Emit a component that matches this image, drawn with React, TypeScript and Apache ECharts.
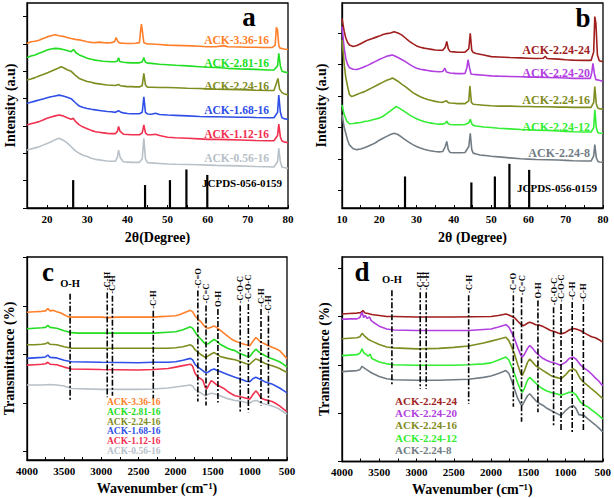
import React, { useEffect, useRef } from 'react';
import * as echarts from 'echarts';

const FONT = "'Liberation Serif', 'Times New Roman', serif";

// ---------- Panel a (XRD, activator ratio series) ----------
const aNames = ['ACK-3.36-16', 'ACK-2.81-16', 'ACK-2.24-16', 'ACK-1.68-16', 'ACK-1.12-16', 'ACK-0.56-16'];
const aColors = ['#FF7F2A', '#22DD22', '#7F8C1F', '#2F4FE8', '#F2304F', '#B8C0C8'];
const aOrange = [[15,6.02],[16,6.08],[17,6.1],[18,6.14],[19,6.2],[20,6.26],[21,6.3],[22,6.34],[23,6.3],[24,6.28],[25,6.24],[26,6.2],[27,6.17],[28,6.15],[29,6.12],[30,6.08],[31,6.06],[32,6.05],[33,6.07],[34,6.05],[35,6.04],[36,6.05],[36.8,6.08],[37.2,6.24],[37.6,6.1],[38,6.04],[39,6.03],[40,6.02],[41,6.02],[42,6.03],[43,6.05],[43.3,6.5],[43.5,6.73],[43.8,6.4],[44.1,6.05],[45,6.0],[46,6.0],[48,5.98],[50,5.96],[52,5.95],[54,5.94],[56,5.93],[58,5.92],[60,5.9],[62,5.9],[64,5.94],[65,5.9],[68,5.89],[70,5.88],[72,5.88],[74,5.87],[76,5.87],[76.8,5.95],[77.1,6.61],[77.4,6.5],[77.7,5.95],[78,5.85],[79,5.82],[80,5.8]];
const aGreen = [[15,5.51],[16,5.56],[17,5.6],[18,5.66],[19,5.72],[20,5.78],[21,5.82],[22,5.84],[23,5.83],[24,5.8],[25,5.76],[26,5.72],[26.6,5.8],[27.2,5.68],[28,5.6],[29,5.54],[30,5.48],[31,5.44],[32,5.41],[33,5.39],[34,5.37],[35,5.36],[36,5.35],[37,5.35],[37.5,5.38],[37.8,5.5],[38.1,5.36],[39,5.33],[40,5.32],[41,5.31],[42,5.31],[43,5.31],[43.7,5.35],[44.1,5.5],[44.5,5.33],[45,5.3],[46,5.29],[48,5.26],[50,5.24],[52,5.22],[55,5.2],[58,5.17],[60,5.15],[62,5.14],[65,5.11],[68,5.09],[70,5.08],[72,5.07],[75,5.05],[76.5,5.05],[77.4,5.2],[77.7,5.66],[78.1,5.2],[78.5,5.0],[79,4.98],[80,4.95]];
const aOlive = [[15,4.68],[16,4.72],[17,4.77],[18,4.83],[19,4.88],[20,4.94],[21,5.0],[22,5.07],[23,5.13],[23.5,5.17],[24,5.14],[25,5.06],[26,5.0],[27,4.86],[28,4.74],[29,4.68],[30,4.63],[31,4.6],[32,4.56],[33,4.54],[34,4.52],[35,4.5],[36,4.49],[37,4.48],[37.8,4.52],[38.3,4.47],[39,4.46],[40,4.44],[41,4.44],[42,4.43],[43,4.43],[43.7,4.48],[44.1,4.93],[44.5,4.5],[45,4.42],[46,4.42],[48,4.41],[50,4.41],[52,4.4],[55,4.38],[58,4.37],[60,4.36],[62,4.35],[65,4.34],[68,4.33],[70,4.32],[72,4.31],[75,4.3],[76.5,4.3],[77.2,4.6],[77.5,4.74],[77.9,4.35],[78.5,4.22],[79,4.18],[80,4.13]];
const aBlue = [[15,3.83],[16,3.87],[17,3.91],[18,3.95],[19,3.99],[20,4.03],[21,4.07],[22,4.1],[23,4.13],[24,4.1],[25,4.05],[26,4.0],[27,3.86],[28,3.73],[29,3.68],[30,3.64],[31,3.61],[32,3.59],[33,3.57],[34,3.55],[35,3.53],[36,3.52],[37,3.5],[37.8,3.56],[38.4,3.5],[39,3.48],[40,3.46],[41,3.45],[42,3.45],[43,3.45],[43.7,3.5],[44.1,4.07],[44.5,3.5],[45,3.44],[46,3.43],[47,3.47],[48,3.42],[50,3.4],[52,3.39],[55,3.37],[58,3.35],[60,3.34],[62,3.34],[65,3.33],[68,3.32],[70,3.32],[72,3.31],[75,3.3],[76.5,3.3],[77.4,3.5],[77.7,4.13],[78.1,3.5],[78.5,3.3],[79,3.27],[80,3.24]];
const aRed = [[15,3.04],[16,3.08],[17,3.12],[18,3.16],[19,3.22],[20,3.28],[21,3.33],[22,3.37],[23,3.4],[24,3.37],[25,3.3],[26,3.25],[26.5,3.28],[27,3.18],[28,3.04],[29,2.96],[30,2.9],[31,2.84],[32,2.79],[33,2.77],[34,2.75],[35,2.73],[36,2.72],[37,2.72],[37.5,2.8],[37.8,2.98],[38.2,2.8],[39,2.7],[40,2.69],[41,2.68],[42,2.68],[43,2.68],[43.7,2.75],[44.1,3.04],[44.5,2.75],[45,2.68],[46,2.68],[47,2.7],[48,2.65],[50,2.59],[52,2.57],[55,2.55],[58,2.53],[60,2.51],[62,2.51],[65,2.5],[68,2.49],[70,2.48],[72,2.47],[75,2.46],[76.5,2.46],[77.4,2.65],[77.7,3.07],[78.1,2.6],[78.5,2.45],[79,2.42],[80,2.39]];
const aGrey = [[15,2.12],[16,2.16],[17,2.2],[18,2.24],[19,2.3],[20,2.36],[21,2.42],[22,2.5],[23,2.55],[24,2.48],[25,2.38],[26,2.24],[27,2.1],[28,2.0],[29,1.93],[30,1.88],[31,1.82],[32,1.78],[33,1.76],[34,1.74],[35,1.72],[36,1.71],[37,1.71],[37.5,1.85],[37.8,2.12],[38.2,1.85],[39,1.69],[40,1.68],[41,1.67],[42,1.67],[43,1.67],[43.7,1.8],[44.1,2.55],[44.5,1.8],[45,1.66],[46,1.65],[48,1.63],[50,1.61],[52,1.6],[55,1.59],[58,1.58],[60,1.57],[62,1.56],[65,1.55],[68,1.54],[70,1.53],[72,1.52],[75,1.51],[76.5,1.5],[77.4,1.7],[77.7,2.18],[78.1,1.7],[78.5,1.5],[79,1.48],[80,1.45]];
const aRefPos = [26.5, 44.4, 50.6, 54.7, 59.9];
const aRefH = [1.02, 0.84, 1.02, 1.41, 1.21];

// ---------- Panel b (XRD, activation time series) ----------
const bNames = ['ACK-2.24-24', 'ACK-2.24-20', 'ACK-2.24-16', 'ACK-2.24-12', 'ACK-2.24-8'];
const bColors = ['#A01E1E', '#B23FE0', '#7F8C1F', '#33EE33', '#727C84'];
const bRed = [[10,5.46],[10.3,5.25],[10.6,5.05],[11,4.85],[11.5,4.7],[12,4.62],[13,4.57],[14,4.6],[15,4.66],[16,4.72],[17,4.78],[18,4.82],[19,4.86],[20,4.9],[21,4.95],[22,4.98],[23,5.0],[24,5.04],[25,5.0],[26,4.94],[27,4.84],[28,4.74],[29,4.66],[30,4.59],[31,4.55],[32,4.52],[33,4.5],[34,4.48],[35,4.46],[36,4.45],[37,4.45],[37.7,4.55],[38.1,4.73],[38.5,4.5],[39,4.41],[40,4.4],[41,4.39],[42,4.39],[43,4.39],[44,4.5],[44.4,4.99],[44.8,4.45],[45.2,4.38],[46,4.35],[48,4.3],[50,4.25],[52,4.24],[55,4.22],[58,4.21],[60,4.2],[62,4.19],[64,4.2],[64.5,4.26],[65,4.19],[68,4.17],[70,4.15],[72,4.14],[75,4.13],[76.8,4.13],[77.5,4.4],[77.8,5.52],[78.1,5.3],[78.5,4.3],[79,4.12],[80,4.09]];
const bPurple = [[10,5.2],[10.3,4.85],[10.6,4.5],[11,4.2],[11.5,4.0],[12,3.9],[13,3.85],[14,3.84],[15,3.88],[16,3.93],[17,3.98],[18,4.04],[19,4.1],[20,4.16],[21,4.21],[22,4.26],[23,4.29],[23.5,4.3],[24,4.28],[25,4.22],[26,4.16],[27,4.09],[28,4.01],[29,3.94],[30,3.88],[31,3.85],[32,3.83],[33,3.81],[34,3.79],[35,3.78],[36,3.77],[37,3.78],[37.6,3.88],[38,3.76],[39,3.73],[40,3.72],[41,3.71],[42,3.71],[43,3.72],[43.5,3.9],[43.8,4.15],[44.2,3.9],[44.6,3.7],[45,3.69],[46,3.68],[48,3.66],[50,3.64],[52,3.63],[55,3.62],[58,3.61],[60,3.6],[62,3.6],[65,3.59],[68,3.58],[70,3.57],[72,3.56],[75,3.56],[76.6,3.56],[77.0,3.75],[77.3,4.04],[77.7,3.7],[78.1,3.52],[79,3.5],[80,3.46]];
const bOlive = [[10,4.78],[10.3,4.4],[10.6,4.0],[11,3.6],[11.5,3.3],[12,3.05],[12.5,2.99],[13,3.0],[14,3.05],[15,3.1],[16,3.14],[17,3.2],[18,3.26],[19,3.32],[20,3.38],[21,3.44],[22,3.5],[23,3.54],[23.5,3.57],[24,3.54],[25,3.47],[26,3.38],[27,3.3],[28,3.2],[29,3.11],[30,3.04],[31,2.98],[32,2.93],[33,2.89],[34,2.86],[35,2.83],[36,2.81],[37,2.8],[38,2.85],[38.5,2.79],[39,2.78],[40,2.77],[41,2.76],[42,2.76],[43,2.76],[44,2.85],[44.3,3.32],[44.7,2.8],[45.2,2.74],[46,2.73],[48,2.71],[50,2.69],[52,2.68],[55,2.68],[58,2.67],[60,2.67],[62,2.66],[65,2.66],[68,2.65],[70,2.65],[72,2.64],[75,2.64],[76.8,2.64],[77.5,2.8],[77.8,3.3],[78.2,2.75],[78.6,2.62],[79,2.6],[80,2.58]];
const bGreen = [[10,2.72],[10.4,2.5],[10.8,2.35],[11.3,2.2],[12,2.12],[13,2.13],[14,2.15],[15,2.16],[16,2.19],[17,2.21],[18,2.24],[19,2.27],[20,2.3],[21,2.36],[22,2.44],[23,2.53],[24,2.62],[24.5,2.67],[25,2.64],[26,2.57],[27,2.49],[28,2.41],[29,2.34],[30,2.28],[31,2.23],[32,2.19],[33,2.16],[34,2.14],[35,2.12],[36,2.11],[37,2.11],[37.7,2.14],[38.1,2.2],[38.5,2.12],[39,2.1],[40,2.09],[41,2.09],[42,2.09],[43,2.1],[44,2.15],[44.4,2.26],[44.8,2.12],[45.2,2.07],[46,2.05],[48,2.02],[50,2.0],[52,1.98],[55,1.96],[58,1.94],[60,1.93],[62,1.92],[65,1.91],[68,1.89],[70,1.88],[72,1.87],[75,1.86],[76.8,1.86],[77.5,2.0],[77.8,2.56],[78.2,2.0],[78.6,1.84],[79,1.83],[80,1.82]];
const bGrey = [[10,2.41],[10.3,2.2],[10.6,2.0],[11,1.82],[11.5,1.6],[12,1.45],[13,1.33],[14,1.3],[15,1.32],[16,1.36],[17,1.41],[18,1.46],[19,1.52],[20,1.6],[21,1.66],[22,1.72],[23,1.78],[24,1.82],[25,1.78],[26,1.7],[27,1.61],[28,1.53],[29,1.46],[30,1.4],[31,1.35],[32,1.31],[33,1.28],[34,1.26],[35,1.24],[36,1.23],[37,1.24],[37.7,1.4],[38.1,1.56],[38.5,1.3],[39,1.21],[40,1.2],[41,1.2],[42,1.2],[43,1.21],[44,1.4],[44.4,1.82],[44.8,1.3],[45.2,1.19],[46,1.16],[47,1.13],[48,1.12],[50,1.09],[52,1.07],[55,1.04],[58,1.01],[60,1.0],[62,0.99],[65,0.98],[68,0.97],[70,0.96],[72,0.95],[75,0.94],[76.8,0.94],[77.5,1.1],[77.8,1.46],[78.2,1.05],[78.6,0.93],[79,0.91],[80,0.9]];
const bRefPos = [26.9, 44.7, 51.0, 54.9, 60.2];
const bRefH = [0.45, 0.26, 0.45, 0.85, 0.66];

// ---------- Panel c (FTIR, activator ratio series) ----------
const cOrange = [[4000,2.87],[3900,2.88],[3800,2.89],[3750,2.9],[3720,2.95],[3690,2.9],[3650,2.91],[3600,2.88],[3550,2.86],[3500,2.82],[3450,2.78],[3400,2.77],[3300,2.77],[3200,2.77],[3100,2.77],[3000,2.77],[2900,2.76],[2800,2.77],[2700,2.77],[2600,2.77],[2500,2.77],[2400,2.77],[2300,2.77],[2200,2.78],[2100,2.79],[2000,2.8],[1950,2.82],[1900,2.85],[1850,2.88],[1800,2.91],[1770,2.88],[1740,2.8],[1700,2.73],[1660,2.68],[1620,2.6],[1590,2.55],[1560,2.54],[1520,2.56],[1480,2.59],[1450,2.56],[1400,2.5],[1350,2.44],[1300,2.38],[1250,2.32],[1200,2.28],[1150,2.25],[1100,2.22],[1050,2.2],[1000,2.18],[960,2.27],[920,2.35],[890,2.31],[850,2.25],[800,2.22],[750,2.18],[700,2.15],[650,2.12],[600,2.08],[550,2.0],[500,1.91]];
const cGreen = [[4000,2.53],[3900,2.54],[3800,2.55],[3750,2.56],[3720,2.6],[3690,2.56],[3600,2.54],[3500,2.49],[3400,2.45],[3300,2.44],[3000,2.44],[2800,2.44],[2500,2.44],[2300,2.44],[2100,2.46],[2000,2.47],[1900,2.51],[1800,2.57],[1770,2.54],[1740,2.47],[1700,2.38],[1660,2.32],[1620,2.25],[1590,2.21],[1560,2.22],[1520,2.27],[1480,2.31],[1440,2.27],[1400,2.21],[1350,2.17],[1300,2.13],[1250,2.1],[1200,2.08],[1150,2.03],[1100,2.0],[1050,1.97],[1000,1.96],[960,2.04],[920,2.11],[890,2.07],[850,2.02],[800,1.98],[750,1.94],[700,1.91],[650,1.88],[600,1.85],[550,1.8],[500,1.74]];
const cOlive = [[4000,2.2],[3900,2.2],[3800,2.21],[3750,2.22],[3720,2.25],[3690,2.21],[3600,2.2],[3500,2.16],[3400,2.13],[3000,2.13],[2500,2.13],[2300,2.13],[2100,2.13],[2000,2.14],[1900,2.16],[1800,2.2],[1770,2.17],[1740,2.1],[1700,2.05],[1660,2.0],[1620,1.96],[1590,1.94],[1560,1.97],[1520,2.01],[1480,2.04],[1440,2.0],[1400,1.96],[1300,1.92],[1200,1.89],[1100,1.84],[1050,1.81],[1000,1.8],[960,1.86],[920,1.91],[890,1.89],[850,1.86],[800,1.82],[750,1.79],[700,1.77],[650,1.74],[600,1.71],[550,1.67],[500,1.63]];
const cBlue = [[4000,1.92],[3900,1.93],[3800,1.94],[3750,1.95],[3720,1.99],[3690,1.94],[3600,1.93],[3500,1.88],[3400,1.85],[3000,1.84],[2500,1.83],[2300,1.84],[2100,1.84],[2000,1.85],[1900,1.88],[1800,1.92],[1770,1.89],[1740,1.8],[1700,1.74],[1660,1.7],[1620,1.65],[1590,1.62],[1560,1.64],[1520,1.68],[1480,1.7],[1440,1.67],[1400,1.65],[1300,1.59],[1200,1.53],[1100,1.48],[1050,1.45],[1000,1.44],[960,1.5],[920,1.53],[890,1.51],[850,1.48],[800,1.44],[750,1.41],[700,1.39],[650,1.35],[600,1.31],[550,1.26],[500,1.21]];
const cRed = [[4000,1.78],[3900,1.79],[3800,1.8],[3750,1.81],[3720,1.84],[3690,1.8],[3600,1.79],[3500,1.74],[3400,1.7],[3000,1.69],[2500,1.68],[2300,1.69],[2100,1.71],[2000,1.74],[1900,1.77],[1800,1.8],[1770,1.76],[1740,1.62],[1700,1.53],[1660,1.5],[1630,1.46],[1600,1.32],[1580,1.29],[1550,1.38],[1520,1.46],[1490,1.43],[1450,1.38],[1400,1.34],[1350,1.3],[1300,1.24],[1250,1.19],[1200,1.15],[1100,1.12],[1050,1.1],[1000,1.08],[960,1.17],[920,1.25],[890,1.2],[850,1.1],[800,1.07],[750,1.05],[700,1.03],[650,0.99],[600,0.94],[550,0.88],[500,0.82]];
const cGrey = [[4000,1.37],[3900,1.37],[3800,1.37],[3700,1.38],[3600,1.37],[3500,1.35],[3400,1.3],[3000,1.28],[2500,1.28],[2300,1.29],[2100,1.31],[2000,1.33],[1900,1.35],[1800,1.37],[1770,1.35],[1740,1.28],[1700,1.24],[1650,1.2],[1600,1.15],[1560,1.18],[1520,1.2],[1480,1.19],[1400,1.15],[1300,1.09],[1200,1.05],[1100,1.03],[1050,1.01],[1000,1.0],[960,1.04],[920,1.05],[890,1.04],[850,1.0],[800,0.98],[750,0.96],[700,0.94],[650,0.91],[600,0.87],[550,0.82],[500,0.77]];
const cMarkWn = [3420, 2920, 2850, 2300, 1700, 1590, 1430, 1130, 1020, 850, 750];
const cMarkTop = [3.25, 3.28, 3.21, 2.9, 3.32, 3.01, 2.94, 3.01, 3.04, 2.94, 2.8];
const cMarkBottom = [1.05, 1.12, 1.15, 1.08, 1.03, 0.95, 1.01, 0.81, 0.81, 0.95, 0.98];
const cMarkLabel = ['O-H', '-C-H', '-C-H', '-C-H', '-C=O', '-C=C', 'O-H', '-C-O-C', '-C-O-C', '-C-H', '-C-H'];

// ---------- Panel d (FTIR, activation time series) ----------
const dRed = [[4000,3.05],[3900,3.06],[3800,3.07],[3750,3.08],[3720,3.12],[3690,3.07],[3650,3.06],[3600,3.04],[3500,3.02],[3400,3.0],[3300,3.0],[3000,2.99],[2500,2.99],[2000,3.0],[1900,3.02],[1800,3.05],[1760,3.03],[1720,3.0],[1680,2.97],[1640,2.9],[1600,2.84],[1570,2.81],[1540,2.83],[1500,2.87],[1480,2.88],[1440,2.86],[1400,2.83],[1350,2.82],[1300,2.79],[1250,2.75],[1200,2.71],[1150,2.69],[1100,2.66],[1060,2.64],[1000,2.67],[950,2.72],[900,2.75],[860,2.74],[800,2.71],[750,2.66],[700,2.62],[650,2.58],[600,2.56],[550,2.52],[500,2.47]];
const dPurple = [[4000,2.94],[3900,2.95],[3800,2.95],[3760,2.98],[3730,3.09],[3710,2.98],[3690,3.02],[3660,2.96],[3630,2.99],[3610,2.92],[3580,2.88],[3500,2.8],[3400,2.74],[3300,2.72],[3000,2.71],[2500,2.71],[2300,2.71],[2100,2.73],[2000,2.74],[1900,2.78],[1800,2.83],[1760,2.78],[1720,2.66],[1680,2.52],[1640,2.35],[1600,2.2],[1580,2.16],[1550,2.22],[1510,2.34],[1480,2.4],[1440,2.34],[1400,2.26],[1350,2.19],[1300,2.13],[1250,2.09],[1200,2.06],[1150,2.04],[1100,2.01],[1070,1.99],[1000,2.05],[950,2.13],[900,2.16],[860,2.12],[800,2.0],[750,1.93],[700,1.88],[650,1.81],[600,1.73],[550,1.66],[520,1.6],[500,1.57]];
const dOlive = [[4000,2.54],[3900,2.55],[3800,2.56],[3760,2.58],[3730,2.65],[3700,2.6],[3650,2.53],[3600,2.49],[3500,2.42],[3400,2.37],[3300,2.35],[3000,2.33],[2700,2.34],[2500,2.36],[2300,2.39],[2100,2.45],[2000,2.49],[1900,2.53],[1800,2.57],[1760,2.5],[1720,2.36],[1680,2.2],[1640,2.0],[1600,1.82],[1580,1.78],[1550,1.88],[1510,2.05],[1480,2.12],[1440,2.05],[1400,1.98],[1350,1.93],[1300,1.88],[1250,1.83],[1200,1.78],[1150,1.75],[1100,1.73],[1060,1.71],[1000,1.79],[950,1.88],[900,1.92],[860,1.88],[800,1.71],[750,1.63],[700,1.57],[650,1.5],[600,1.44],[550,1.37],[500,1.3]];
const dGreen = [[4000,2.19],[3900,2.2],[3800,2.21],[3760,2.24],[3730,2.33],[3710,2.25],[3680,2.22],[3650,2.18],[3620,2.22],[3600,2.13],[3500,2.06],[3400,2.02],[3300,2.0],[3000,1.99],[2500,1.99],[2300,2.0],[2100,2.02],[2000,2.04],[1900,2.1],[1800,2.16],[1760,2.1],[1720,1.95],[1680,1.8],[1640,1.62],[1600,1.47],[1580,1.43],[1550,1.52],[1510,1.68],[1480,1.74],[1440,1.68],[1400,1.62],[1350,1.55],[1300,1.5],[1250,1.46],[1200,1.43],[1150,1.41],[1100,1.39],[1060,1.37],[1000,1.4],[950,1.43],[900,1.43],[860,1.38],[800,1.23],[750,1.17],[700,1.13],[650,1.07],[600,1.01],[550,0.95],[500,0.88]];
const dGrey = [[4000,1.86],[3900,1.87],[3800,1.88],[3760,1.9],[3730,1.97],[3700,1.93],[3650,1.88],[3600,1.83],[3500,1.76],[3400,1.71],[3300,1.69],[3000,1.68],[2700,1.68],[2500,1.69],[2300,1.7],[2100,1.74],[2000,1.77],[1900,1.82],[1800,1.88],[1760,1.82],[1720,1.66],[1680,1.48],[1640,1.3],[1600,1.18],[1580,1.16],[1550,1.25],[1510,1.36],[1480,1.4],[1440,1.33],[1400,1.26],[1350,1.2],[1300,1.16],[1250,1.1],[1200,1.06],[1150,1.02],[1100,0.98],[1060,0.95],[1000,1.05],[950,1.12],[900,1.16],[860,1.1],[820,0.97],[780,0.96],[750,0.95],[700,0.88],[650,0.82],[600,0.76],[550,0.69],[500,0.61]];
const dMarkWn = [3330, 2950, 2870, 2300, 1700, 1590, 1370, 1160, 1060, 910, 760];
const dMarkTop = [3.54, 3.5, 3.5, 3.44, 3.44, 3.4, 3.33, 3.19, 3.26, 3.3, 3.26];
const dMarkBottom = [1.57, 1.5, 1.5, 1.19, 1.13, 0.82, 1.02, 0.75, 0.64, 0.61, 0.62];
const dMarkLabel = ['O-H', '-C-H', '-C-H', '-C-H', '-C=O', '-C=C', 'O-H', '-C-O-C', '-C-O-C', '-C-H', '-C-H'];

const Y_MIN = [0, -0.55, -0.175, 0];
const Y_MAX = [7.5, 5.95, 4.01, 4.23];

const bold = (size: number) => `bold ${size}px ${FONT}`;

function lineSeries(data: number[][], color: string, idx: number) {
  return {
    type: 'line', xAxisIndex: idx, yAxisIndex: idx, data,
    showSymbol: false, symbol: 'none', silent: true, z: 2,
    lineStyle: { color, width: 1.6 }, itemStyle: { color },
  };
}

function refSeries(pos: number[], h: number[], idx: number) {
  return {
    type: 'custom', xAxisIndex: idx, yAxisIndex: idx, silent: true, z: 3, clip: false,
    data: pos.map((p, i) => [p, h[i]]),
    renderItem: (_p: any, api: any) => {
      const x = api.value(0);
      const p1 = api.coord([x, api.value(1)]);
      const p0 = api.coord([x, Y_MIN[idx]]);
      return { type: 'line', shape: { x1: p0[0], y1: p0[1], x2: p1[0], y2: p1[1] }, style: { stroke: '#000', lineWidth: 2.2 } };
    },
  };
}

function markSeries(wn: number[], top: number[], bot: number[], labels: string[], idx: number, rotSize: number) {
  return {
    type: 'custom', xAxisIndex: idx, yAxisIndex: idx, silent: true, z: 5, clip: false,
    data: wn.map((w, i) => [w, top[i], bot[i]]),
    renderItem: (params: any, api: any) => {
      const w = api.value(0);
      const pt = api.coord([w, api.value(1)]);
      const pb = api.coord([w, api.value(2)]);
      const i = params.dataIndex;
      const horizontal = i === 0;
      const text = horizontal
        ? { type: 'text', x: pt[0], y: pt[1] - 5, style: { text: labels[i], fill: '#000', font: bold(10.5), align: 'center', verticalAlign: 'bottom' } }
        : { type: 'text', x: pt[0], y: pt[1] - 2, rotation: Math.PI / 2, style: { text: labels[i], fill: '#000', font: bold(rotSize), align: 'left', verticalAlign: 'middle' } };
      return {
        type: 'group',
        children: [
          { type: 'line', shape: { x1: pt[0], y1: pt[1], x2: pb[0], y2: pb[1] }, style: { stroke: '#000', lineWidth: 1.6, lineDash: [6, 2, 2, 2] } },
          text,
        ],
      };
    },
  };
}

function xAxis(idx: number, min: number, max: number, interval: number, labelStep: number, name: string, inverse: boolean, nameGap: number) {
  return {
    type: 'value', gridIndex: idx, min, max, interval, inverse,
    name, nameLocation: 'middle', nameGap,
    nameTextStyle: { color: '#000', fontFamily: FONT, fontWeight: 'bold', fontSize: 14 },
    axisLine: { onZero: false, lineStyle: { color: '#000', width: 1.3 } },
    axisTick: { inside: true, length: 3, lineStyle: { color: '#000', width: 1 } },
    axisLabel: {
      color: '#000', fontFamily: FONT, fontWeight: 'bold', fontSize: 11, margin: 5,
      formatter: (v: number) => (Math.round(v) % labelStep === 0 ? String(v) : ''),
    },
    splitLine: { show: false },
  };
}

function yAxis(idx: number, name: string, nameGap: number, ticks: number[]) {
  return {
    type: 'value', gridIndex: idx, min: Y_MIN[idx], max: Y_MAX[idx],
    name, nameLocation: 'middle', nameGap, nameRotate: 90,
    nameTextStyle: { color: '#000', fontFamily: FONT, fontWeight: 'bold', fontSize: 14 },
    axisLine: { onZero: false, lineStyle: { color: '#000', width: 1.3 } },
    axisTick: { inside: false, length: 4, customValues: ticks, lineStyle: { color: '#000', width: 1 } },
    axisLabel: { show: false, customValues: ticks },
    splitLine: { show: false },
  };
}

function txt(text: string, x: number, y: number, color: string, size: number, align = 'left') {
  return { type: 'text', x, y, silent: true, z: 10, style: { text, fill: color, font: bold(size), align, verticalAlign: 'middle' } };
}

export default function App() {
  const ref = useRef<HTMLDivElement>(null);
  useEffect(() => {
    if (!ref.current) return;
    const chart = echarts.init(ref.current, null, { renderer: 'svg' });
    const aData = [aOrange, aGreen, aOlive, aBlue, aRed, aGrey];
    const bData = [bRed, bPurple, bOlive, bGreen, bGrey];
    const cData = [cOrange, cGreen, cOlive, cBlue, cRed, cGrey];
    const dData = [dRed, dPurple, dOlive, dGreen, dGrey];
    const aLabelY = [40, 63, 86, 110, 134, 158];
    const bLabelY = [50, 73, 100, 127, 153];
    const graphic: any[] = [
      txt('a', 249, 17, '#000', 27, 'center'),
      txt('b', 583, 18, '#000', 27, 'center'),
      txt('c', 48, 272, '#000', 27, 'center'),
      txt('d', 362, 272, '#000', 27, 'center'),
      txt('JCPDS-056-0159', 202, 183, '#000', 11),
      txt('JCPDS-056-0159', 517, 188, '#000', 11),
    ];
    aNames.forEach((n, i) => graphic.push(txt(n, 269, aLabelY[i], aColors[i], 11.5, 'right')));
    bNames.forEach((n, i) => graphic.push(txt(n, 590, bLabelY[i], bColors[i], 12, 'right')));
    aNames.forEach((n, i) => graphic.push(txt(n, 107, 402 + i * 9.8, aColors[i], 9.5)));
    bNames.forEach((n, i) => graphic.push(txt(n, 395, 401 + i * 12.2, bColors[i], 11)));

    const series: any[] = [];
    aData.forEach((d, i) => series.push(lineSeries(d, aColors[i], 0)));
    bData.forEach((d, i) => series.push(lineSeries(d, bColors[i], 1)));
    cData.forEach((d, i) => series.push(lineSeries(d, aColors[i], 2)));
    dData.forEach((d, i) => series.push(lineSeries(d, bColors[i], 3)));
    series.push(refSeries(aRefPos, aRefH, 0));
    series.push(refSeries(bRefPos, bRefH, 1));
    series.push(markSeries(cMarkWn, cMarkTop, cMarkBottom, cMarkLabel, 2, 8.5));
    series.push(markSeries(dMarkWn, dMarkTop, dMarkBottom, dMarkLabel, 3, 8.5));

    const gridBase = { show: true, borderColor: '#000', borderWidth: 1.3, backgroundColor: 'transparent', containLabel: false };
    chart.setOption({
      animation: false,
      backgroundColor: '#fff',
      grid: [
        { ...gridBase, left: 27, top: 3, width: 261, height: 205 },
        { ...gridBase, left: 342, top: 3, width: 261, height: 205 },
        { ...gridBase, left: 27, top: 257, width: 260, height: 203 },
        { ...gridBase, left: 342, top: 257, width: 262, height: 204.5 },
      ],
      xAxis: [
        xAxis(0, 15, 80, 5, 10, '2θ(Degree)', false, 22),
        xAxis(1, 10, 80, 5, 10, '2θ (Degree)', false, 22),
        xAxis(2, 500, 4000, 250, 500, 'Wavenumber (cm⁻¹)', true, 21),
        xAxis(3, 500, 4000, 250, 500, 'Wavenumber (cm⁻¹)', true, 21),
      ],
      yAxis: [
        yAxis(0, 'Intensity (a.u)', 10, [0, 1, 2, 3, 4, 5, 6, 7]),
        yAxis(1, 'Intensity (a.u)', 14, [0, 1, 2, 3, 4, 5]),
        yAxis(2, 'Transmittance (%)', 11, [0, 1, 2, 3, 4]),
        yAxis(3, 'Transmittance (%)', 11, [0, 1, 2, 3, 4]),
      ],
      graphic,
      series,
    });
    return () => chart.dispose();
  }, []);
  return <div ref={ref} style={{ position: 'fixed', left: 0, top: 0, width: 614, height: 498 }} />;
}
